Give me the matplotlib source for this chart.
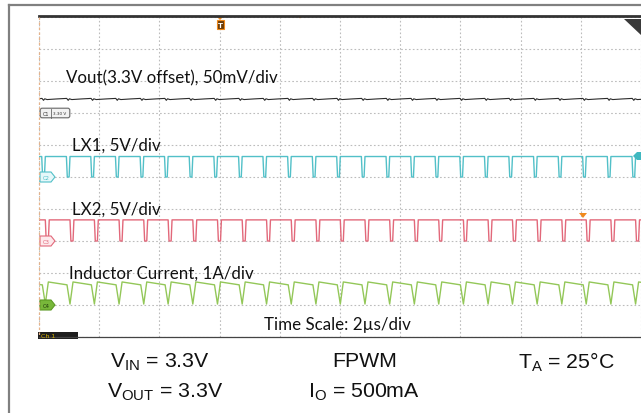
import numpy as np
import matplotlib.pyplot as plt
from matplotlib.patches import Rectangle, Polygon, FancyBboxPatch

plt.rcParams['mathtext.fontset'] = 'custom'
plt.rcParams['mathtext.rm'] = 'Liberation Sans'

# switching instants (us)
sw_times = [0.15, 0.97, 1.78, 2.60, 3.42, 4.23, 5.05, 5.87, 6.69, 7.50,
            8.32, 9.14, 9.95, 10.77, 11.59, 12.41, 13.22, 14.04, 14.86, 15.67,
            16.49, 17.31, 18.12, 18.94, 19.76]

# one switching cycle per channel: time from switching instant (us), value
vout_cycle_t = [-0.05, 0.0, 0.04, 0.12, 0.45]
vout_cycle_mv = [22.8, 19.8, 22.2, 21.0, 22.0]
lx1_cycle_t = [-0.06, -0.03, 0.03, 0.06]
lx1_cycle_v = [3.2, 0.0, 0.0, 3.2]
lx2_cycle_t = [0.06, 0.09, 0.16, 0.19]
lx2_cycle_v = [3.3, 0.0, 0.0, 3.3]
il_cycle_t = [-0.04, 0.06, 0.16]
il_cycle_a = [0.63, 0.03, 0.72]

# channel ground positions (div) and scales (unit per div)
ch_pos = [2, 0, -2, -4]
ch_scale = [50.0, 5.0, 5.0, 1.0]
ch_color = ['#2b2b2b', '#52c0c8', '#e2687a', '#93c758']
ch_label = ['Vout(3.3V offset), 50mV/div', 'LX1, 5V/div', 'LX2, 5V/div',
            'Inductor Current, 1A/div']

t_div = 2.0  # us/div


def build(cyc_t, cyc_v, v0, v1):
    t = [0.0]
    v = [v0]
    for ts in sw_times:
        for dt, val in zip(cyc_t, cyc_v):
            t.append(ts + dt)
            v.append(val)
    if t[-1] < 10 * t_div:
        t.append(10 * t_div)
        v.append(v1)
    return np.array(t), np.array(v)


traces = [build(vout_cycle_t, vout_cycle_mv, 22.3, 22.5),
          build(lx1_cycle_t, lx1_cycle_v, 3.2, 3.2),
          build(lx2_cycle_t, lx2_cycle_v, 3.3, 3.3),
          build(il_cycle_t, il_cycle_a, 0.64, 0.71)]

W, H = 641, 414
fig = plt.figure(figsize=(W / 100, H / 100), dpi=100)
fig.patch.set_facecolor('white')

# scope screen
ax = fig.add_axes([39 / W, 1 - 338 / H, 602 / W, 320 / H])
ax.set_xlim(0, 10 * t_div)
ax.set_ylim(-5, 5)
ax.set_xticks(np.arange(0, 10 * t_div + 0.1, t_div))
ax.set_yticks(np.arange(-5, 6))
ax.tick_params(length=0, labelbottom=False, labelleft=False)
ax.grid(True, color='#bcbcbc', linestyle=(0, (1.5, 2)), linewidth=0.8)
for s in ax.spines.values():
    s.set_visible(False)

for (t, v), pos, sc, col, lw in zip(traces, ch_pos, ch_scale, ch_color, [0.8, 1, 1, 1]):
    ax.plot(t, pos + v / sc, color=col, lw=lw, zorder=3)

# overlay in pixel coordinates for frame, markers and text
d = fig.add_axes([0, 0, 1, 1], facecolor='none')
d.set_xlim(0, W)
d.set_ylim(H, 0)
d.axis('off')

d.plot([9, 9], [6, H], color='#808080', lw=1.6)
d.plot([9, W], [6, 6], color='#808080', lw=1.6)
d.plot([39, W], [17, 17], color='#333333', lw=2.0)
d.plot([39, 39], [18, 338], color='#e8b48a', lw=0.9, linestyle=(0, (2, 2)))
d.plot([39, W], [338, 338], color='#444444', lw=0.9)

# Ch 1 tab
d.add_patch(Rectangle((38, 333), 40, 7, facecolor='#1e1e1e', edgecolor='none'))
d.text(41, 337, 'Ch 1', color='#d8b400', fontsize=4.5, va='center', ha='left')

# C1 marker
d.add_patch(FancyBboxPatch((41, 110), 28, 8, boxstyle='round,pad=0.8,rounding_size=2',
                           facecolor='#f2f2f2', edgecolor='#666666', lw=0.8))
d.plot([51, 51], [109.5, 118.5], color='#666666', lw=0.6)
d.text(46, 114.3, 'C1', fontsize=3.5, ha='center', va='center', color='#333333')
d.text(60, 114.3, '3.30 V', fontsize=3.0, ha='center', va='center', color='#333333')

# C2..C4 markers
mk = [(178, '#e6f8fa', '#52c0c8', '#52c0c8', 'C2'),
      (242, '#fde9ec', '#e2687a', '#e2687a', 'C3'),
      (306, '#78b83a', '#5c9a24', '#1f3a0a', 'C4')]
for y, fc, ec, tc, lab in mk:
    d.add_patch(Polygon([(40, y - 5), (51, y - 5), (55, y), (51, y + 5), (40, y + 5)],
                        closed=True, facecolor=fc, edgecolor=ec, lw=0.8))
    d.text(46, y + 0.3, lab, fontsize=3.8, ha='center', va='center', color=tc)

# trigger marker and small top tick
d.add_patch(Polygon([(217, 18), (223, 18), (220, 21)], closed=True, facecolor='#f08a1c'))
d.add_patch(Rectangle((216.5, 21), 7, 9, facecolor='#6b3c08', edgecolor='#f08a1c', lw=0.8))
d.text(220, 25.8, 'T', fontsize=5, ha='center', va='center', color='white', fontweight='bold')
d.add_patch(Polygon([(298, 17), (302, 17), (300, 19.5)], closed=True, facecolor='#f08a1c'))

# top-right corner triangle
d.add_patch(Polygon([(624, 20), (W, 20), (W, 36)], closed=True, facecolor='#3a3a3a'))

# cursor marks
d.add_patch(Polygon([(579, 214), (587, 214), (583, 219)], closed=True, facecolor='#f08a1c'))
d.add_patch(Polygon([(633, 157), (637, 153), (W, 153), (W, 161), (637, 161)],
                    closed=True, facecolor='#3fb8c0'))

# channel labels
lab_xy = [(66, 78), (72, 146), (72, 210), (69, 274)]
for (x, y), s in zip(lab_xy, ch_label):
    d.text(x, y, s, fontsize=12.2, family='Lato', ha='left', va='center', color='#111111')
d.text(264, 325, 'Time Scale: 2\u00b5s/div', fontsize=12.2, family='Lato',
       ha='left', va='center', color='#111111')

# conditions under the screen
cond = [(160, 362, 'V$_\\mathrm{IN}$ = 3.3V'), (365, 362, 'FPWM'),
        (566, 362, 'T$_\\mathrm{A}$ = 25\u00b0C'),
        (165, 392, 'V$_\\mathrm{OUT}$ = 3.3V'), (364, 392, 'I$_\\mathrm{O}$ = 500mA')]
for x, y, s in cond:
    d.text(x, y, s, fontsize=15.3, family='Liberation Sans', ha='center', va='center',
           color='#111111')

fig.savefig('out.png', dpi=100)
